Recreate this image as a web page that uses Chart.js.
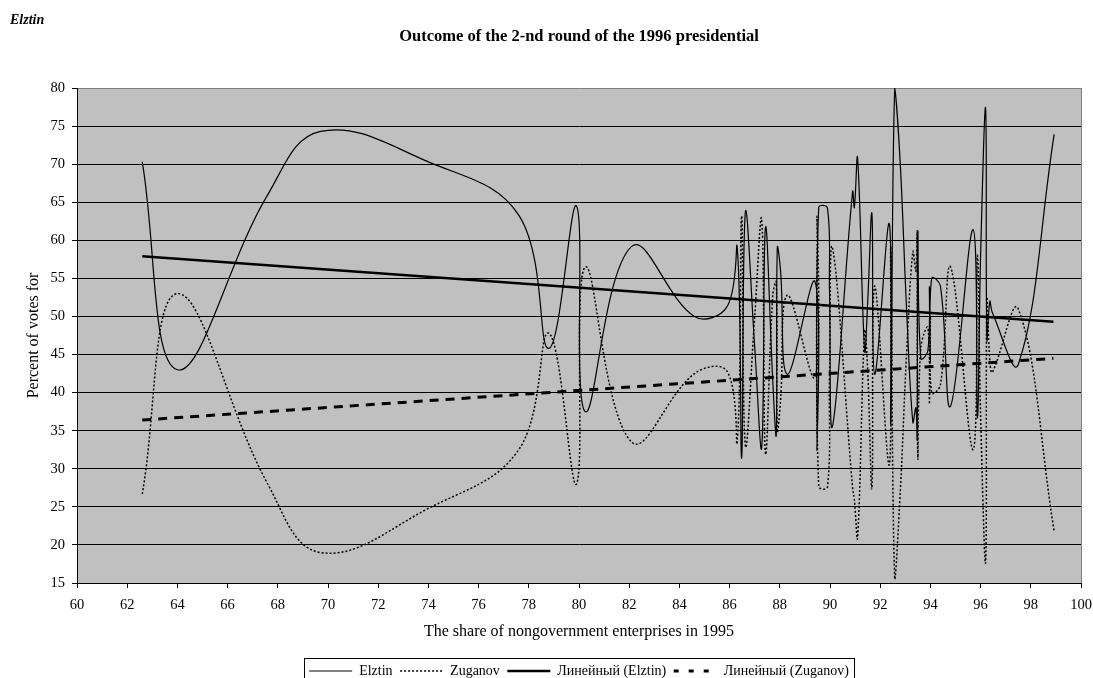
<!DOCTYPE html>
<html><head><meta charset="utf-8">
<script src="https://cdn.jsdelivr.net/npm/chart.js@4"></script>
<style>html,body{margin:0;padding:0;background:#fff;overflow:hidden}#wrap{width:1093px;height:700px}</style>
</head><body><div id="wrap"><canvas id="c" width="1093" height="700"></canvas></div>
<script>
// x: share of nongovernment enterprises (per region), y: percent of votes
const regionShare = [62.6, 64.0, 67.6, 69.7, 74.0, 77.6, 78.8, 79.9, 80.25, 82.1, 84.6, 85.9,
  86.3, 86.48, 86.63, 87.0, 87.28, 87.43, 87.72, 87.86, 87.9, 88.03, 88.3, 89.4, 89.48, 89.55, 89.9, 89.98,
  90.1, 90.9, 90.97, 91.1, 91.38, 91.5, 91.67, 91.78, 92.36, 92.42, 92.58, 92.8, 93.05, 93.3, 93.42, 93.47, 93.5,
  93.62, 93.9, 93.96, 94.0, 94.05, 94.4, 94.8, 95.7, 95.87, 96.0, 96.2, 96.25, 96.37, 96.47, 97.5, 98.93];
const elztinVotes = [70.3, 43.0, 66.0, 74.3, 70.3, 63.3, 45.8, 64.5, 37.5, 59.2, 50.0, 51.3,
  59.1, 31.4, 63.7, 46.0, 32.8, 61.7, 41.5, 34.5, 59.0, 56.0, 42.4, 54.6, 32.5, 64.3, 64.2, 53.5,
  35.6, 66.4, 64.3, 70.8, 45.5, 51.8, 63.5, 42.4, 62.2, 36.1, 80.0, 70.0, 51.0, 36.1, 38.0, 34.0, 61.1,
  44.5, 45.5, 53.9, 44.0, 55.0, 54.0, 38.2, 61.4, 36.7, 58.0, 77.3, 47.0, 52.0, 50.5, 43.7, 73.9];
const zuganovVotes = [26.7, 53.0, 28.0, 19.0, 24.8, 32.5, 47.8, 28.0, 56.5, 33.5, 42.5, 42.8,
  33.5, 63.2, 33.0, 50.0, 62.7, 32.0, 52.8, 54.5, 35.0, 39.0, 52.8, 42.0, 63.0, 27.7, 27.6, 42.0,
  59.0, 27.5, 26.0, 21.0, 48.0, 43.0, 27.5, 54.0, 30.5, 59.0, 15.5, 27.0, 45.0, 58.5, 56.0, 61.0, 31.5,
  46.0, 48.5, 38.5, 50.0, 40.0, 41.0, 56.5, 32.5, 58.0, 37.0, 17.8, 52.2, 44.0, 42.7, 51.0, 21.8];
const trendShare = [62.6, 98.9];
const elztinTrend = [57.9, 49.3];
const zuganovTrend = [36.4, 44.5];
const seriesNames = ['Elztin', 'Zuganov', 'Линейный (Elztin)', 'Линейный (Zuganov)'];
const chartTitle = 'Outcome of the 2-nd round of the 1996 presidential';
const cornerLabel = 'Elztin';
const xTitle = 'The share of nongovernment enterprises in 1995';
const yTitle = 'Percent of votes for';

const pts = (xs, ys) => xs.map((x, i) => ({x: x, y: ys[i]}));
const FONT = "'Liberation Serif', 'Times New Roman', serif";

const decor = {
  id: 'decor',
  beforeDraw(chart) {
    const {ctx, chartArea: a} = chart;
    ctx.save();
    ctx.fillStyle = '#c0c0c0';
    ctx.fillRect(a.left, a.top, a.right - a.left, a.bottom - a.top);
    ctx.restore();
  },
  afterDraw(chart) {
    const {ctx, chartArea: a} = chart;
    ctx.save();
    ctx.strokeStyle = '#808080'; ctx.lineWidth = 1;
    ctx.beginPath();
    ctx.moveTo(Math.round(a.right) + 0.5, a.top);
    ctx.lineTo(Math.round(a.right) + 0.5, a.bottom);
    ctx.stroke();
    ctx.fillStyle = '#000';
    ctx.font = 'italic bold 14px ' + FONT;
    ctx.textBaseline = 'middle'; ctx.textAlign = 'left';
    ctx.fillText(cornerLabel, 10, 20);
    const hb = chart.legend && chart.legend.legendHitBoxes;
    if (hb && hb.length) {
      const l = hb[0].left - 5;
      const last = hb[hb.length - 1];
      const r = last.left + last.width + 5;
      const t = hb[0].top - 6;
      ctx.strokeStyle = '#000';
      ctx.strokeRect(Math.round(l) + 0.5, Math.round(t) + 0.5, Math.round(r - l), 40);
    }
    ctx.restore();
  }
};

const legendDash = [[], [2, 2], [], [5, 10]];
const base = {pointRadius: 0, pointHoverRadius: 0, pointStyle: 'line', borderColor: '#000', backgroundColor: '#000', fill: false};

new Chart(document.getElementById('c'), {
  type: 'line',
  data: {
    datasets: [
      Object.assign({}, base, {label: seriesNames[0], data: pts(regionShare, elztinVotes), borderWidth: 1.2, tension: 0.4, order: 3}),
      Object.assign({}, base, {label: seriesNames[1], data: pts(regionShare, zuganovVotes), borderWidth: 1.5, borderDash: [2, 2], tension: 0.4, order: 2}),
      Object.assign({}, base, {label: seriesNames[2], data: pts(trendShare, elztinTrend), borderWidth: 2.6, tension: 0, order: 1}),
      Object.assign({}, base, {label: seriesNames[3], data: pts(trendShare, zuganovTrend), borderWidth: 3, borderDash: [9, 7], tension: 0, order: 0})
    ]
  },
  options: {
    responsive: false, animation: false, devicePixelRatio: 1,
    layout: {padding: {left: 20, right: 12, top: 0, bottom: 12}},
    plugins: {
      tooltip: {enabled: false},
      title: {display: true, fullSize: false, text: chartTitle, color: '#000', font: {family: FONT, size: 16.5, weight: 'bold', lineHeight: 1.2}, padding: {top: 26.8, bottom: 41.4}},
      legend: {
        position: 'bottom', fullSize: false,
        labels: {
          usePointStyle: true, pointStyleWidth: 43, padding: 7.5, color: '#000',
          font: {family: FONT, size: 14},
          sort: (a, b) => a.datasetIndex - b.datasetIndex,
          generateLabels(chart) {
            const items = Chart.defaults.plugins.legend.labels.generateLabels(chart);
            items.forEach((it) => {
              const ds = chart.data.datasets[it.datasetIndex];
              it.lineDash = legendDash[it.datasetIndex];
              it.lineWidth = ds.borderWidth;
              it.strokeStyle = '#000';
              it.fillStyle = '#000';
              it.pointStyle = 'line';
            });
            return items;
          }
        }
      }
    },
    scales: {
      x: {
        type: 'linear', min: 60, max: 100,
        ticks: {stepSize: 2, color: '#000', font: {family: FONT, size: 14.5}, padding: 8, maxRotation: 0, autoSkip: false},
        grid: {drawOnChartArea: false, drawTicks: true, tickLength: 5, tickColor: '#000'},
        border: {color: '#000', width: 1},
        title: {display: true, text: xTitle, color: '#000', font: {family: FONT, size: 16}, padding: {top: 0, bottom: 15}},
        afterFit(s) { s.height = 73.5; s.paddingLeft = 0; s.paddingRight = 0; }
      },
      y: {
        type: 'linear', min: 15, max: 80,
        ticks: {stepSize: 5, color: '#000', font: {family: FONT, size: 14.5}, padding: 7},
        grid: {color: (c) => (c.tick && c.tick.value === 80 ? '#808080' : '#000'), lineWidth: 1, tickLength: 5, tickColor: '#000'},
        border: {color: '#000', width: 1},
        title: {display: true, text: yTitle, color: '#000', font: {family: FONT, size: 16}, padding: {top: 4, bottom: 0}},
        afterFit(s) { s.width = 57; s.paddingTop = 0; s.paddingBottom = 0; }
      }
    }
  },
  plugins: [decor]
});
</script>
</body></html>
